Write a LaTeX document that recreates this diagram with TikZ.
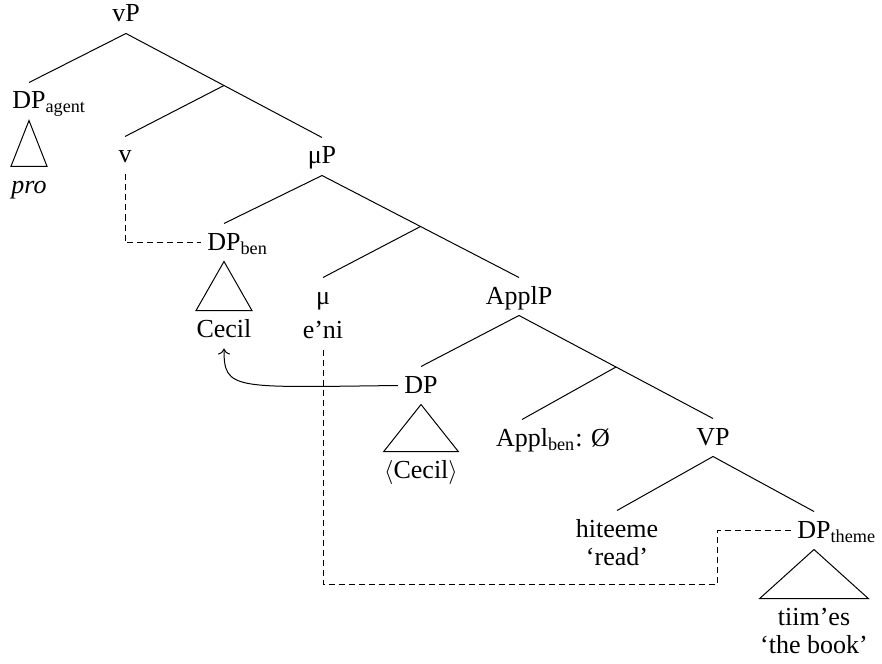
\documentclass[tikz,border=0pt]{standalone}
\usepackage{fontspec}
\setmainfont{Liberation Serif}
\usetikzlibrary{calc,arrows.meta}
\tikzstyle{cat}=[inner sep=3pt,text height=10pt,text depth=2.5pt]
\tikzstyle{leaf}=[cat,inner xsep=0pt]
\tikzstyle{link}=[dash pattern=on 3pt off 2pt]
\newcommand{\lsub}[1]{\rlap{\textsubscript{#1}}}

\begin{document}
\begin{tikzpicture}[x=0.5pt,y=-0.5pt,line width=0.5pt,font=\fontsize{13}{15.5}\selectfont]
  \useasboundingbox (0,0) rectangle (882,663);
  %树的节点,坐标按像素, y 向下
  \node[cat] (vp) at (126,14.5) {vP};
  \node[cat] (dpagent) at (29,101.5) {DP\lsub{agent}};
  \node[leaf,below of=dpagent,node distance=42pt] (pro) {\textit{pro}};
  \node[cat] (v) at (125,155.5) {v};
  \node[cat] (mup) at (322,156.5) {μP};
  \node[cat] (dpben) at (224,242.5) {DP\lsub{ben}};
  \node[leaf,below of=dpben,node distance=43.5pt] (cecil) {Cecil};
  \node[cat] (mu) at (323,296.5) {μ};
  \node[cat,below of=mu,node distance=17pt] (eni) {e’ni};
  \node[cat] (applp) at (519,296.5) {ApplP};
  \node[cat] (dp) at (421,385.5) {DP};
  \node[leaf,below of=dp,node distance=42.5pt] (cecilt) {$\langle$Cecil$\rangle$};
  \node[cat] (applben) at (522,438.5) {Appl\rlap{\textsubscript{ben}: Ø}};
  \node[cat] (vpp) at (713,437.5) {VP};
  \node[cat] (hiteeme) at (617,529.5) {hiteeme};
  \node[cat,below of=hiteeme,node distance=14pt] (read) {‘read’};
  \node[cat] (dptheme) at (814,530.5) {DP\lsub{theme}};
  \node[leaf,below of=dptheme,node distance=43.5pt] (tiimes) {tiim’es};
  \node[leaf,below of=tiimes,node distance=14pt] (thebook) {‘the book’};
  %中间层 (不画标签)
  \coordinate (vbar) at ($(vp.south)!.5!(mup.north)$);
  \coordinate (mubar) at ($(mup.south)!.5!(applp.north)$);
  \coordinate (applbar) at ($(applp.south)!.5!(vpp.north)$);
  %连线
  \draw (vp.south)--(dpagent.north);
  \draw (vp.south)--(mup.north);
  \draw (vbar)--(v.north);
  \draw (mup.south)--(dpben.north);
  \draw (mup.south)--(applp.north);
  \draw (mubar)--(mu.north);
  \draw (applp.south)--(dp.north);
  \draw (applp.south)--(vpp.north);
  \draw (applbar)--(applben.north);
  \draw (vpp.south)--(hiteeme.north);
  \draw (vpp.south)--(dptheme.north);
  %三角形
  \draw (dpagent.south)--(pro.north west)--(pro.north east)--cycle;
  \draw (dpben.south)--(cecil.north west)--(cecil.north east)--cycle;
  \draw (dp.south)--(cecilt.north west)--(cecilt.north east)--cycle;
  \draw (dptheme.south)--(thebook.west|-tiimes.north)--(thebook.east|-tiimes.north)--cycle;
  %虚线和箭头
  \draw[link] (v.south)|-(dpben.west);
  \coordinate (turn) at (717,584);
  \draw[link] (eni.south)|-(turn)|-(dptheme.west);
  \draw[-{To[length=3pt,width=6pt]}] (dp.west) .. controls +(-165,2) and +(0,42) .. (cecil.south);
\end{tikzpicture}
\end{document}
